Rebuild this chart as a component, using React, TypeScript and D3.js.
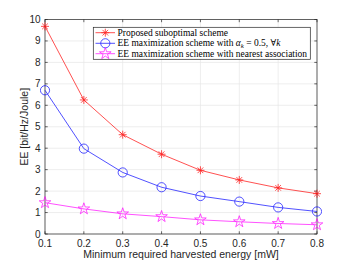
import React, { useRef, useEffect } from "react";
import * as d3 from "d3";

const energy = [0.1, 0.2, 0.3, 0.4, 0.5, 0.6, 0.7, 0.8];
const proposed = [9.68, 6.25, 4.63, 3.72, 2.97, 2.52, 2.15, 1.88];
const alphaHalf = [6.7, 3.98, 2.87, 2.18, 1.77, 1.51, 1.24, 1.05];
const nearest = [1.46, 1.17, 0.94, 0.81, 0.66, 0.57, 0.49, 0.43];
const xTicks = [0.1, 0.2, 0.3, 0.4, 0.5, 0.6, 0.7, 0.8];
const yTicks = [0, 1, 2, 3, 4, 5, 6, 7, 8, 9, 10];

const W = 350;
const H = 263;
const M = { left: 45, right: 33, top: 19.5, bottom: 29 };

const App = () => {
  const ref = useRef<SVGSVGElement>(null);

  useEffect(() => {
    const root = d3.select(ref.current);
    root.selectAll("*").remove();
    const svg = root.attr("width", W).attr("height", H);

    const x = d3.scaleLinear().domain([0.1, 0.8]).range([M.left, W - M.right]);
    const y = d3.scaleLinear().domain([0, 10]).range([H - M.bottom, M.top]);
    const [x0, x1] = x.range();
    const [y0, y1] = y.range();

    svg.append("rect").attr("width", W).attr("height", H).attr("fill", "#fff");

    // grid
    const grid = svg.append("g").attr("stroke", "#e5e5e5").attr("stroke-width", 0.7);
    xTicks.forEach((t) => {
      grid.append("line").attr("x1", x(t)).attr("x2", x(t)).attr("y1", y0).attr("y2", y1);
    });
    yTicks.forEach((t) => {
      grid.append("line").attr("x1", x0).attr("x2", x1).attr("y1", y(t)).attr("y2", y(t));
    });

    // box + ticks
    const axc = "#262626";
    svg.append("rect")
      .attr("x", x0).attr("y", y1).attr("width", x1 - x0).attr("height", y0 - y1)
      .attr("fill", "none").attr("stroke", axc).attr("stroke-width", 0.7);
    const tk = svg.append("g").attr("stroke", axc).attr("stroke-width", 0.7);
    xTicks.forEach((t) => {
      tk.append("line").attr("x1", x(t)).attr("x2", x(t)).attr("y1", y0).attr("y2", y0 - 2.7);
      tk.append("line").attr("x1", x(t)).attr("x2", x(t)).attr("y1", y1).attr("y2", y1 + 2.7);
    });
    yTicks.forEach((t) => {
      tk.append("line").attr("x1", x0).attr("x2", x0 + 2.7).attr("y1", y(t)).attr("y2", y(t));
      tk.append("line").attr("x1", x1).attr("x2", x1 - 2.7).attr("y1", y(t)).attr("y2", y(t));
    });

    const font = "Liberation Sans, Arial, sans-serif";
    xTicks.forEach((t) => {
      svg.append("text").attr("x", x(t)).attr("y", y0 + 12.5)
        .attr("text-anchor", "middle").attr("font-family", font).attr("font-size", 10)
        .attr("fill", axc).text(t.toFixed(1));
    });
    yTicks.forEach((t) => {
      svg.append("text").attr("x", x0 - 4.5).attr("y", y(t) + 3.5)
        .attr("text-anchor", "end").attr("font-family", font).attr("font-size", 10)
        .attr("fill", axc).text(String(t));
    });
    svg.append("text").attr("x", (x0 + x1) / 2).attr("y", H - 5)
      .attr("text-anchor", "middle").attr("font-family", font).attr("font-size", 10.5)
      .attr("fill", axc).text("Minimum required harvested energy [mW]");
    svg.append("text")
      .attr("transform", `translate(28, ${(y0 + y1) / 2}) rotate(-90)`)
      .attr("text-anchor", "middle").attr("font-family", font).attr("font-size", 10.5)
      .attr("fill", axc).text("EE [bit/Hz/Joule]");

    // markers
    const drawMarker = (g: any, kind: string, cx: number, cy: number, color: string) => {
      if (kind === "star") {
        const r = 4;
        for (let i = 0; i < 4; i++) {
          const a = (i * Math.PI) / 4;
          g.append("line")
            .attr("x1", cx - r * Math.cos(a)).attr("y1", cy - r * Math.sin(a))
            .attr("x2", cx + r * Math.cos(a)).attr("y2", cy + r * Math.sin(a))
            .attr("stroke", color).attr("stroke-width", 0.8);
        }
      } else if (kind === "circle") {
        g.append("circle").attr("cx", cx).attr("cy", cy).attr("r", 4.6)
          .attr("fill", "none").attr("stroke", color).attr("stroke-width", 0.8);
      } else {
        const sym = d3.symbol().type(d3.symbolStar).size(42);
        g.append("path").attr("d", sym()).attr("transform", `translate(${cx},${cy})`)
          .attr("fill", "none").attr("stroke", color).attr("stroke-width", 0.8);
      }
    };

    const series = [
      { vals: proposed, color: "#ff0000", kind: "star" },
      { vals: alphaHalf, color: "#0000ff", kind: "circle" },
      { vals: nearest, color: "#ff00ff", kind: "pent" },
    ];
    const line = d3.line<number>().x((_, i) => x(energy[i])).y((d) => y(d));
    series.forEach((s) => {
      const g = svg.append("g").attr("opacity", 0.85);
      g.append("path").attr("d", line(s.vals)).attr("fill", "none")
        .attr("stroke", s.color).attr("stroke-width", 0.8);
      s.vals.forEach((v, i) => drawMarker(g, s.kind, x(energy[i]), y(v), s.color));
    });

    // legend
    const lx = 93.3, ly = 27.3, lw = 217, lh = 32;
    svg.append("rect").attr("x", lx).attr("y", ly).attr("width", lw).attr("height", lh)
      .attr("fill", "#fff").attr("stroke", axc).attr("stroke-width", 0.7);
    const serif = "Liberation Serif, DejaVu Serif, serif";
    const rows = [32.7, 43.3, 53.7];
    series.forEach((s, i) => {
      const g = svg.append("g").attr("opacity", 0.85);
      g.append("line").attr("x1", 95.5).attr("x2", 115).attr("y1", rows[i]).attr("y2", rows[i])
        .attr("stroke", s.color).attr("stroke-width", 0.8);
      drawMarker(g, s.kind, 105.3, rows[i], s.color);
    });
    const txt = (i: number) =>
      svg.append("text").attr("class", "leg").attr("x", 117.5).attr("y", rows[i] + 3)
        .attr("font-family", serif).attr("font-size", 9).attr("fill", "#000");
    txt(0).text("Proposed suboptimal scheme");
    const t1 = txt(1);
    t1.append("tspan").text("EE maximization scheme with ");
    t1.append("tspan").attr("font-style", "italic").text("α");
    t1.append("tspan").attr("font-style", "italic").attr("font-size", 6.5).attr("dy", 1.8).text("k");
    t1.append("tspan").attr("dy", -1.8).text(" = 0.5, ∀");
    t1.append("tspan").attr("font-style", "italic").text("k");
    const t2 = txt(2).text("EE maximization scheme with nearest association");

    // scale legend font so the longest row spans the box like the reference
    const len = (t2.node() as SVGTextElement).getComputedTextLength();
    if (len > 0) {
      const fs = Math.min(10.5, (9 * 190) / len);
      svg.selectAll("text.leg").attr("font-size", fs);
      t1.selectAll("tspan").filter((_, i) => i === 2).attr("font-size", fs * 0.72);
    }
  }, []);

  return <svg ref={ref} style={{ display: "block", position: "absolute", left: 0, top: 0 }}></svg>;
};

export default App;
